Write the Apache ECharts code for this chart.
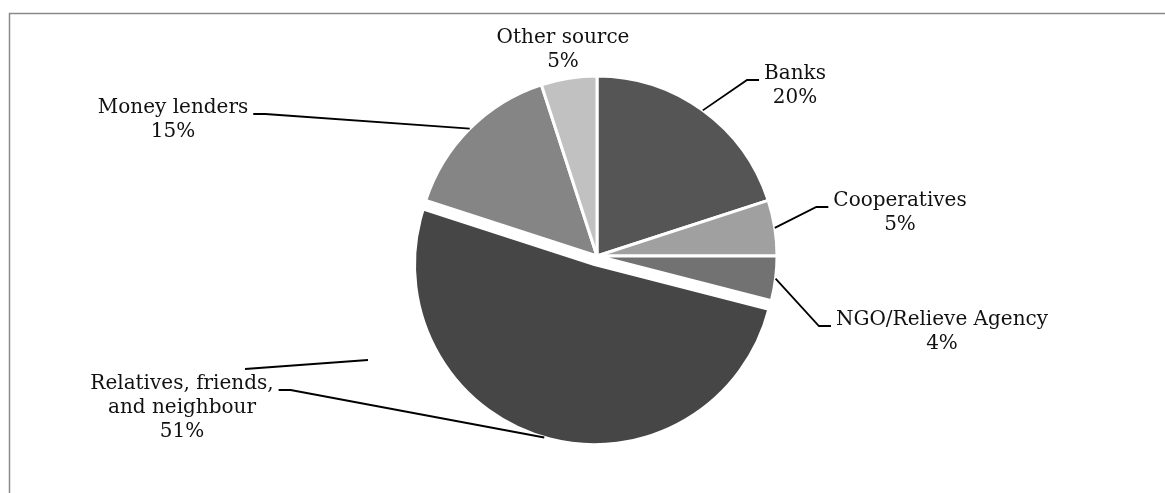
<!DOCTYPE html>
<html><head><meta charset="utf-8">
<script src="https://cdn.jsdelivr.net/npm/echarts@6/dist/echarts.min.js"></script>
<style>html,body{margin:0;padding:0;background:#fff}#c{width:1165px;height:493px}</style>
</head><body><div id="c"></div>
<script>
// ---- data ----
const categories = ['Banks', 'Cooperatives', 'NGO/Relieve Agency', 'Relatives, friends,\nand neighbour', 'Money lenders', 'Other source'];
const shares = [20, 5, 4, 51, 15, 5];
const sliceColors = ['#555555', '#a0a0a0', '#727272', '#464646', '#858585', '#c1c1c1'];
const explodedIndex = 3;

// ---- label placement (layout only) ----
const labelPlacement = [
  { cx: 795, cy: 86, side: 'left' },
  { cx: 900, cy: 213, side: 'left' },
  { cx: 942, cy: 332, side: 'left' },
  { cx: 182, cy: 408, side: 'right' },
  { cx: 173, cy: 120, side: 'right' },
  { cx: 563, cy: 50, side: 'none' }
];
const LINE_H = 24;
const PIE_CENTER = [597, 256];
const PIE_RADIUS = 180;
const EXPLODE = 9;

const chart = echarts.init(document.getElementById('c'), null, { renderer: 'canvas' });

const sliceData = categories.map((name, i) => ({
  name: name,
  value: shares[i],
  selected: i === explodedIndex,
  itemStyle: { color: sliceColors[i] }
}));

const labelData = categories.map((name, i) => ({
  name: name,
  value: shares[i],
  labelLine: { show: labelPlacement[i].side !== 'none' }
}));

chart.setOption({
  animation: false,
  backgroundColor: '#ffffff',
  graphic: [
    { type: 'rect', z: -1, silent: true,
      shape: { x: 9.5, y: 13.5, width: 1400, height: 700 },
      style: { fill: 'none', stroke: '#8a8a8a', lineWidth: 1.5 } },
    { type: 'line', silent: true,
      shape: { x1: 245, y1: 369, x2: 368, y2: 360 },
      style: { stroke: '#000', lineWidth: 1.8 } }
  ],
  series: [{
    type: 'pie',
    center: PIE_CENTER,
    radius: PIE_RADIUS,
    startAngle: 90,
    clockwise: true,
    selectedMode: 'multiple',
    selectedOffset: EXPLODE,
    itemStyle: { borderColor: '#ffffff', borderWidth: 3 },
    emphasis: { disabled: true },
    label: { show: false },
    labelLine: { show: false },
    data: sliceData
  }, {
    type: 'pie',
    silent: true,
    z: 3,
    center: PIE_CENTER,
    radius: PIE_RADIUS,
    startAngle: 90,
    clockwise: true,
    avoidLabelOverlap: false,
    itemStyle: { color: 'rgba(0,0,0,0)', borderWidth: 0 },
    emphasis: { disabled: true },
    label: {
      show: true,
      position: 'outside',
      formatter: p => p.name + '\n' + p.value + '%',
      fontFamily: 'DejaVu Serif',
      fontSize: 20,
      lineHeight: LINE_H,
      color: '#111111',
      align: 'center'
    },
    labelLine: { show: true, length: 20, length2: 12, lineStyle: { color: '#000', width: 1.8 } },
    labelLayout: function (params) {
      const pl = labelPlacement[params.dataIndex];
      const w = params.labelRect.width, h = params.labelRect.height;
      const lineY = pl.cy - h / 2 + LINE_H / 2 + 6;
      const out = { x: pl.cx, y: pl.cy, align: 'center', verticalAlign: 'middle' };
      if (params.labelLinePoints && pl.side !== 'none') {
        let a = params.labelLinePoints[0].slice();
        if (params.dataIndex === explodedIndex) {
          const dx = a[0] - PIE_CENTER[0], dy = a[1] - PIE_CENTER[1];
          const len = Math.sqrt(dx * dx + dy * dy) || 1;
          a = [a[0] + dx / len * EXPLODE, a[1] + dy / len * EXPLODE];
        }
        if (pl.side === 'left') {
          const edge = pl.cx - w / 2 - 5;
          out.labelLinePoints = [a, [edge - 12, lineY], [edge, lineY]];
        } else {
          const edge = pl.cx + w / 2 + 5;
          out.labelLinePoints = [a, [edge + 12, lineY], [edge, lineY]];
        }
      }
      return out;
    },
    data: labelData
  }]
});
</script></body></html>
